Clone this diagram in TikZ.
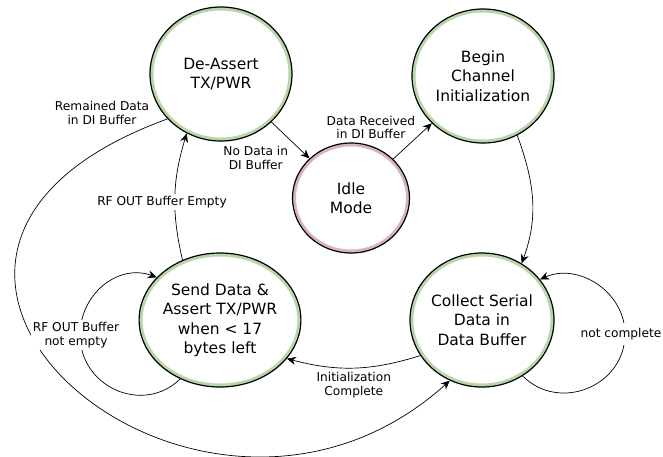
\documentclass[tikz,border=0pt]{standalone}
\usepackage{fontspec}
\setmainfont{DejaVu Sans}
\usepackage{tikz}
\usetikzlibrary{shapes, calc, positioning, arrows.meta}

\definecolor{ringgreen}{RGB}{184,214,170}
\definecolor{ringpink}{RGB}{216,180,192}

\tikzset{
	stnode/.style={ellipse, draw=black, line width=1.2pt, minimum width=142pt, minimum height=134pt, inner sep=0pt, align=center, font=\fontsize{15.5}{19.5}\selectfont,
		path picture={\draw[#1, line width=7pt] let \p1=(path picture bounding box.north east), \p2=(path picture bounding box.center) in (\p2) ellipse [x radius=\x1-\x2, y radius=\y1-\y2];}},
	stnode/.default=ringgreen,
	lbl/.style={font=\fontsize{12.2}{13.5}\selectfont, align=center, inner sep=2pt},
	link/.style={line width=0.7pt, -{Stealth[length=9pt, width=8pt]}}
}

\begin{document}
\begin{tikzpicture}[x=1pt, y=1pt]
	\useasboundingbox (0,0) rectangle (663,-456);

	% states
	\node[stnode] (deassert) at (221,-74) {De-Assert\\TX/PWR};
	\node[stnode] (chinit) at (483,-76) {Begin\\Channel\\Initialization};
	\node[stnode=ringpink, minimum width=117pt, minimum height=110pt] (idle) at (351,-198) {Idle\\Mode};
	\node[stnode] (senddata) at (220,-320) {Send Data \&\\Assert TX/PWR\\when < 17\\bytes left};
	\node[stnode] (collect) at (482,-320) {Collect Serial\\Data in\\Data Buffer};

	% outer points of the self loops
	\coordinate (cloop) at (625,-334);
	\coordinate (sloop) at (80,-335);

	% transitions
	\draw[link] (deassert) -- node[lbl, below left, yshift=-4pt] {No Data in\\DI Buffer} (idle);
	\draw[link] (idle) -- node[lbl, above left, xshift=5pt] {Data Received\\in DI Buffer} (chinit);
	\draw[link] (chinit.-60) to[out=-70, in=70] (collect.55);
	\draw[link] (collect.210) to[bend left=16] node[lbl, below=2pt] {Initialization\\Complete} (senddata.-30);
	\draw[link] (senddata.122) to[bend left=15] node[lbl, fill=white, xshift=-13pt, yshift=-6pt] {RF OUT Buffer Empty} (deassert.-120);
	\draw[link] (deassert.220) .. controls +(200:400) and +(222:340) .. (collect.242)
		node[lbl, pos=0, anchor=east, xshift=-16pt, yshift=6pt] {Remained Data\\in DI Buffer};

	% self loops
	\draw[link] (collect.-54) .. controls +(-45:52) and +(-90:52) .. (cloop)
		.. controls +(90:42) and +(24:42) .. (collect.35);
	\draw[link] (senddata.-124) .. controls +(-136:52) and +(-90:52) .. (sloop)
		.. controls +(90:41) and +(160:41) .. (senddata.146);
	\node[lbl, fill=white, inner xsep=1pt, inner ysep=5pt, xshift=-4pt] at (cloop) {not complete};
	\node[lbl, fill=white, xshift=-4pt] at (sloop) {RF OUT Buffer\\not empty};
\end{tikzpicture}
\end{document}
